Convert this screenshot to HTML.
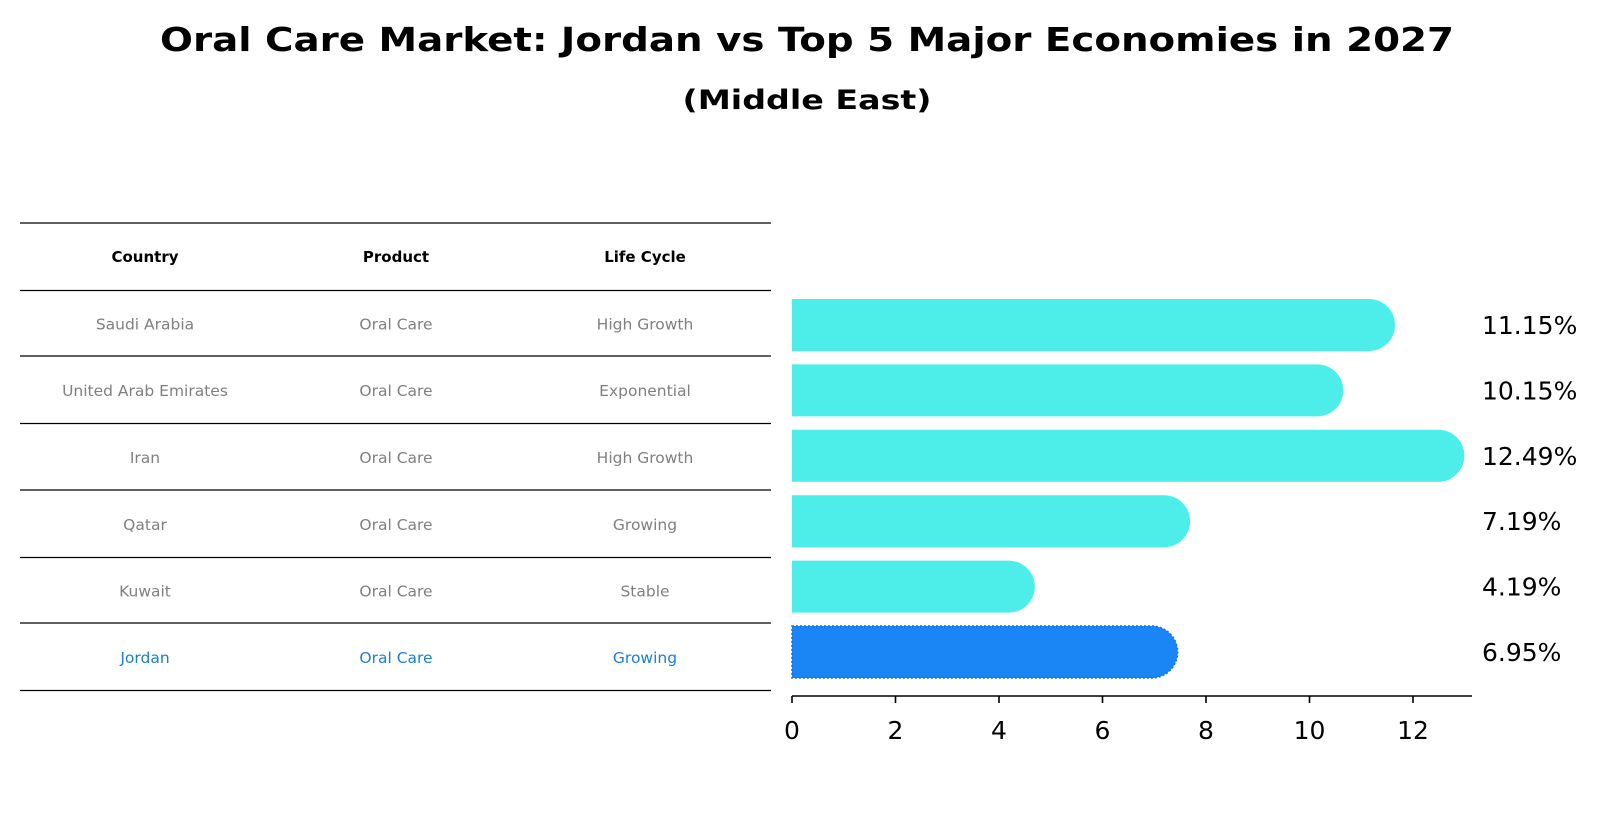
<!DOCTYPE html>
<html><head><meta charset="utf-8"><style>
html,body{margin:0;padding:0;background:#fff;}
svg{display:block;font-family:"DejaVu Sans","Liberation Sans",sans-serif;}
</style></head><body>
<svg width="1604" height="823" viewBox="0 0 1604 823">
<text x="807" y="51" text-anchor="middle" font-weight="bold" font-size="33" textLength="1294" lengthAdjust="spacingAndGlyphs">Oral Care Market: Jordan vs Top 5 Major Economies in 2027</text>
<text x="807" y="109" text-anchor="middle" font-weight="bold" font-size="27" textLength="249" lengthAdjust="spacingAndGlyphs">(Middle East)</text>
<g id="table"></g>
<g id="bars"></g>
<g id="axis"></g>
</svg>
<script>
const countries = ["Saudi Arabia","United Arab Emirates","Iran","Qatar","Kuwait","Jordan"];
const products = ["Oral Care","Oral Care","Oral Care","Oral Care","Oral Care","Oral Care"];
const lifeCycles = ["High Growth","Exponential","High Growth","Growing","Stable","Growing"];
const values = [11.15,10.15,12.49,7.19,4.19,6.95];
const valueLabels = ["11.15%","10.15%","12.49%","7.19%","4.19%","6.95%"];
const ticks = [0,2,4,6,8,10,12];

const NS="http://www.w3.org/2000/svg";
function mk(tag,attrs,parent){const e=document.createElementNS(NS,tag);for(const k in attrs)e.setAttribute(k,attrs[k]);parent.appendChild(e);return e;}
const X0=792, UNIT=51.75;
function xs(v){return X0+v*UNIT;}
const ROW0=325, ROWH=65.4;
function ys(i){return ROW0+i*ROWH;}

// table
const tbl=document.getElementById('table');
const lineYs=[223,290.5,356,423.5,490,557.5,623,690.5];
lineYs.forEach(y=>{const l=mk('line',{x1:20,x2:771,y1:y,y2:y,stroke:'#000','stroke-width':1.2},tbl);

});
const colX=[145,396,645];
["Country","Product","Life Cycle"].forEach((h,j)=>{const t=mk('text',{x:colX[j],y:262,'text-anchor':'middle','font-weight':'bold','font-size':15},tbl);t.textContent=h;

});
countries.forEach((c,i)=>{
  const col=i===countries.length-1?'#1a7fd4':'#808080';
  const cy=(lineYs[i+1]+lineYs[i+2])/2+6;
  [c,products[i],lifeCycles[i]].forEach((v,j)=>{const t=mk('text',{x:colX[j],y:cy,'text-anchor':'middle','font-size':15.5,fill:col},tbl);t.textContent=v;
  
  });
});

// bars
const bg=document.getElementById('bars');
const H=52,R=26;
values.forEach((v,i)=>{
  const last=i===values.length-1;
  const fill=last?'#1a86f5':'#4deeea';
  const cy=ys(i), xe=xs(v);
  const d=`M${X0},${cy-H/2} L${xe},${cy-H/2} A${R},${R} 0 0 1 ${xe},${cy+H/2} L${X0},${cy+H/2} Z`;
  const p=mk('path',{d:d,fill:fill},bg);
  if(last){p.setAttribute('stroke','#1570d8');p.setAttribute('stroke-width','1.5');p.setAttribute('stroke-dasharray','2 2');}
  
  
  const t=mk('text',{x:1482,y:cy+9,'font-size':25},bg);t.textContent=valueLabels[i];
  
  
});

// axis
const ax=document.getElementById('axis');
const al=mk('line',{x1:X0,x2:1472,y1:696,y2:696,stroke:'#000','stroke-width':1.6},ax);


ticks.forEach(v=>{
  const tl=mk('line',{x1:xs(v),x2:xs(v),y1:696,y2:703,stroke:'#000','stroke-width':1.6},ax);
  
  
  const t=mk('text',{x:xs(v),y:739,'text-anchor':'middle','font-size':25},ax);t.textContent=v;
  
  
});
</script>
</body></html>
